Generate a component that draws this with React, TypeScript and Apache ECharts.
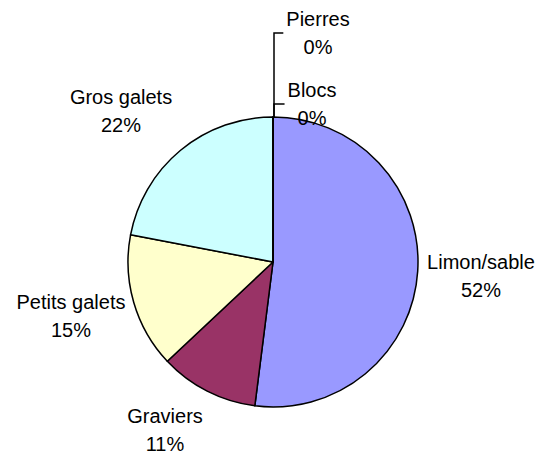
import React, { useEffect, useRef } from "react";
import * as echarts from "echarts";

const categories = ["Limon/sable", "Graviers", "Petits galets", "Gros galets", "Blocs", "Pierres"];
const values = [52, 11, 15, 22, 0, 0];
const colors = ["#9999FF", "#993366", "#FFFFCC", "#CCFFFF", "#FFFFFF", "#FFFFFF"];
// label anchor (centre of the two-line label block)
const labelPos: [number, number][] = [
  [481, 276],
  [165, 430],
  [71, 316],
  [121, 111],
  [312, 104],
  [318, 33],
];

export default function App() {
  const ref = useRef<HTMLDivElement>(null);
  useEffect(() => {
    if (!ref.current) return;
    const chart = echarts.init(ref.current, null, { renderer: "svg" });
    const cx = 273;
    const cy = 262;
    const r = 145;
    chart.setOption({
      animation: false,
      backgroundColor: "#FFFFFF",
      series: [
        {
          type: "pie",
          center: [cx, cy],
          radius: [0, r],
          startAngle: 90,
          clockwise: true,
          avoidLabelOverlap: false,
          stillShowZeroSum: true,
          itemStyle: { borderColor: "#000", borderWidth: 1.5 },
          label: {
            show: true,
            position: "outside",
            color: "#000",
            fontFamily: "'Liberation Sans', Arial, sans-serif",
            fontSize: 20,
            lineHeight: 28,
            align: "center",
            formatter: (p: any) => `${p.name}\n${Math.round(p.percent)}%`,
          },
          labelLine: { show: false },
          emphasis: { disabled: true },
          labelLayout: (params: any) => {
            const i = params.dataIndex;
            const [x, y] = labelPos[i];
            const res: any = { x, y, align: "center", verticalAlign: "middle" };
            if (values[i] === 0) {
              const left = x - params.labelRect.width / 2 - 3;
              res.labelLinePoints = [
                [left, y],
                [cx + 1, y],
                [cx + 1, cy - r],
              ];
            }
            return res;
          },
          data: categories.map((name, i) => ({
            name,
            value: values[i],
            itemStyle: { color: colors[i] },
            labelLine:
              values[i] === 0
                ? { show: true, lineStyle: { color: "#000", width: 1.5 } }
                : { show: false },
          })),
        },
      ],
    });
    return () => chart.dispose();
  }, []);
  return (
    <div
      ref={ref}
      style={{ position: "absolute", left: 0, top: 0, width: 542, height: 458 }}
    />
  );
}
